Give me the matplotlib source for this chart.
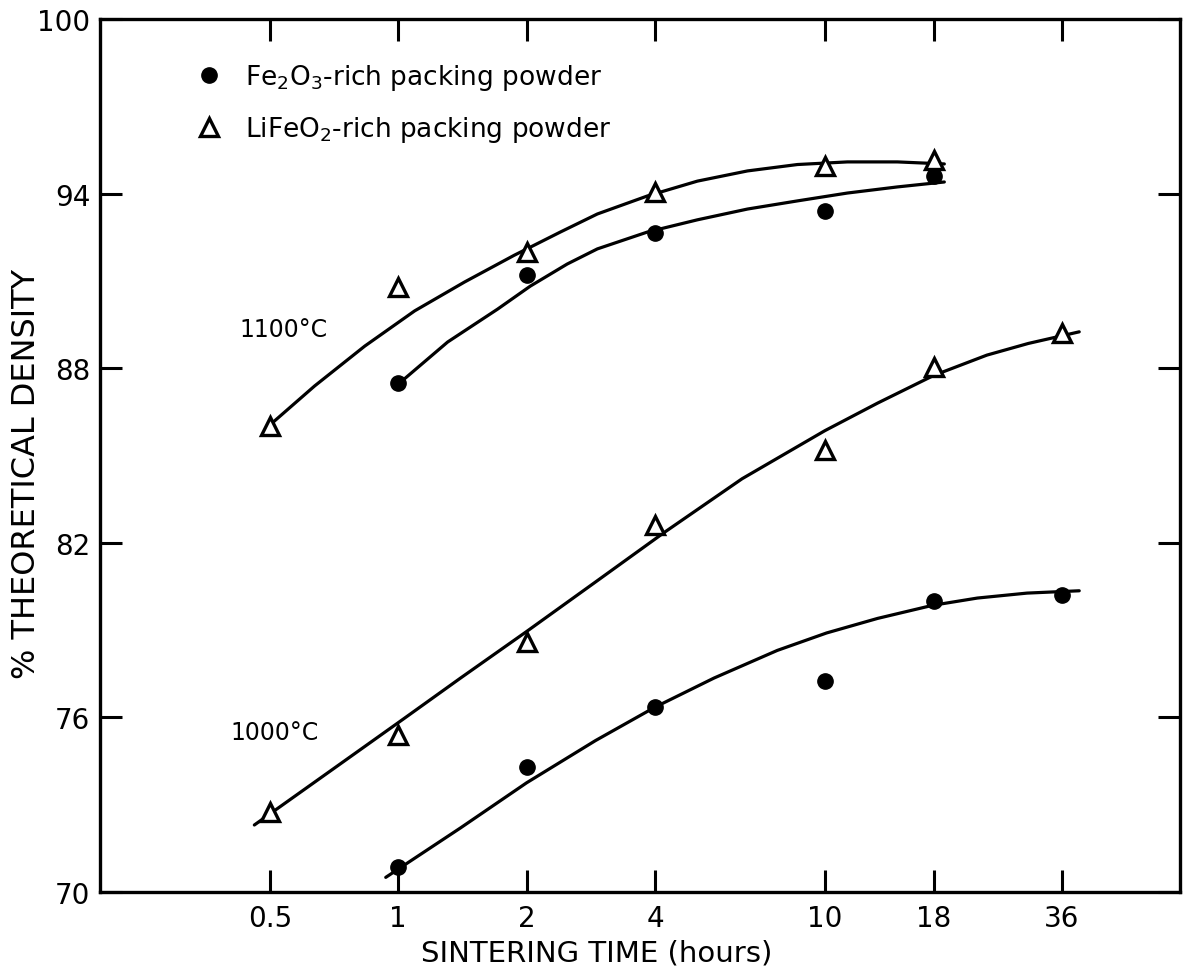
import matplotlib
matplotlib.use("Agg")
from matplotlib import pyplot as plt
from matplotlib.ticker import FixedLocator, FixedFormatter, NullLocator

# measured points
time_1100_tri = [0.5, 1, 2, 4, 10, 18]
dens_1100_tri = [86.0, 90.8, 92.0, 94.05, 94.95, 95.15]
time_1100_dot = [1, 2, 4, 10, 18]
dens_1100_dot = [87.5, 91.2, 92.65, 93.4, 94.6]
time_1000_tri = [0.5, 1, 2, 4, 10, 18, 36]
dens_1000_tri = [72.75, 75.4, 78.6, 82.6, 85.2, 88.05, 89.2]
time_1000_dot = [1, 2, 4, 10, 18, 36]
dens_1000_dot = [70.85, 74.3, 76.35, 77.25, 80.0, 80.2]

# hand drawn curves
curve_1100_tri_t = [0.505, 0.637, 0.835, 1.093, 1.43, 1.87, 2.40, 2.93, 3.84, 5.03, 6.59, 8.63, 11.3, 14.8, 19.07]
curve_1100_tri_d = [86.1, 87.39, 88.76, 89.97, 90.96, 91.88, 92.68, 93.30, 93.92, 94.43, 94.78, 95.0, 95.09, 95.09, 95.02]
curve_1100_dot_t = [1.0, 1.306, 1.71, 2.04, 2.49, 2.93, 3.84, 5.03, 6.59, 8.63, 11.3, 14.8, 19.07]
curve_1100_dot_d = [87.45, 88.9, 90.03, 90.82, 91.58, 92.1, 92.68, 93.1, 93.47, 93.75, 94.02, 94.23, 94.4]
curve_1000_tri_t = [0.46, 0.7, 1.03, 1.4, 2.0, 2.9, 4.2, 6.4, 10.0, 13.3, 18.0, 24.0, 30.0, 39.5]
curve_1000_tri_d = [72.3, 74.2, 75.95, 77.35, 78.95, 80.65, 82.35, 84.2, 85.85, 86.8, 87.75, 88.45, 88.85, 89.25]
curve_1000_dot_t = [0.935, 1.4, 2.0, 2.9, 4.0, 5.5, 7.74, 10.1, 13.3, 17.9, 22.8, 29.8, 39.5]
curve_1000_dot_d = [70.5, 72.2, 73.75, 75.2, 76.35, 77.35, 78.3, 78.9, 79.4, 79.85, 80.1, 80.27, 80.35]

x_ticks = [0.5, 1, 2, 4, 10, 18, 36]
x_ticklabels = ["0.5", "1", "2", "4", "10", "18", "36"]
y_ticks = [70, 76, 82, 88, 94, 100]

plt.rcParams["font.family"] = ["DejaVu Sans"]

fig = plt.figure(figsize=(11.84, 9.78), dpi=100)
ax = fig.add_axes([0.0845, 0.087, 0.912, 0.8925])

lw = 2.3
for t, d in [(curve_1100_tri_t, curve_1100_tri_d), (curve_1100_dot_t, curve_1100_dot_d),
             (curve_1000_tri_t, curve_1000_tri_d), (curve_1000_dot_t, curve_1000_dot_d)]:
    ax.plot(t, d, color="black", lw=lw, solid_capstyle="round", solid_joinstyle="round", zorder=2)

dot_style = dict(linestyle="none", marker="o", markersize=11, color="black", zorder=3)
tri_style = dict(linestyle="none", marker="^", markersize=13, markerfacecolor="white",
                 markeredgecolor="black", markeredgewidth=2.4, zorder=3)

ax.plot(time_1100_dot, dens_1100_dot, label=r"Fe$_2$O$_3$-rich packing powder", **dot_style)
ax.plot(time_1100_tri, dens_1100_tri, label=r"LiFeO$_2$-rich packing powder", **tri_style)
ax.plot(time_1000_dot, dens_1000_dot, **dot_style)
ax.plot(time_1000_tri, dens_1000_tri, **tri_style)

ax.set_xscale("log")
ax.set_xlim(0.2, 68)
ax.set_ylim(70, 100)
ax.xaxis.set_major_locator(FixedLocator(x_ticks))
ax.xaxis.set_major_formatter(FixedFormatter(x_ticklabels))
ax.xaxis.set_minor_locator(NullLocator())
ax.set_yticks(y_ticks)

ax.tick_params(axis="both", which="major", direction="in", length=16, width=2.2,
               top=True, right=True, labelsize=20)
ax.tick_params(axis="x", pad=9)
ax.tick_params(axis="y", pad=7)
for s in ax.spines.values():
    s.set_linewidth(2.4)

ax.set_xlabel("SINTERING TIME (hours)", fontsize=21)
ax.xaxis.set_label_coords(0.46, -0.053)
ax.set_ylabel("% THEORETICAL DENSITY", fontsize=23)
ax.yaxis.set_label_coords(-0.054, 0.48)

ax.text(0.425, 89.35, "1100°C", fontsize=17, va="center", ha="left")
ax.text(0.405, 75.5, "1000°C", fontsize=17, va="center", ha="left")

ax.legend(loc="upper left", bbox_to_anchor=(0.067, 0.978), frameon=False, fontsize=19,
          borderpad=0.4, handlelength=0.95, handletextpad=0.9, labelspacing=0.85, numpoints=1)

fig.savefig("out.png", dpi=100, facecolor="white")
